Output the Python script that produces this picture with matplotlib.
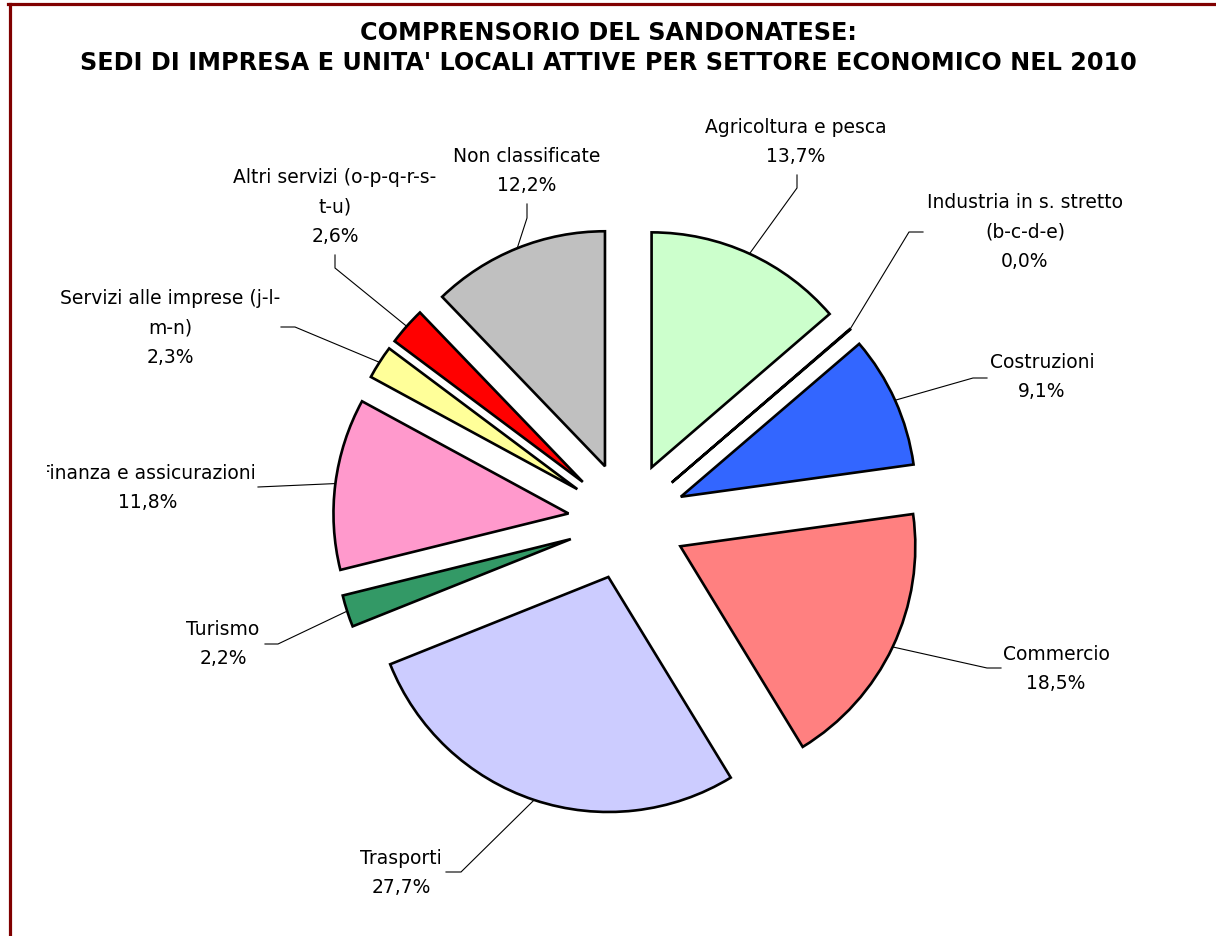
import matplotlib
matplotlib.use("Agg")
import matplotlib.pyplot as plt
import numpy as np
from matplotlib.transforms import Bbox, TransformedBbox

# ---------------- data ----------------
categories = [
    "Agricoltura e pesca",
    "Industria in s. stretto\n(b-c-d-e)",
    "Costruzioni",
    "Commercio",
    "Trasporti",
    "Turismo",
    "Finanza e assicurazioni",
    "Servizi alle imprese (j-l-\nm-n)",
    "Altri servizi (o-p-q-r-s-\nt-u)",
    "Non classificate",
]
values = [13.7, 0.04, 9.1, 18.5, 27.7, 2.2, 11.8, 2.3, 2.6, 12.2]
colors = ["#CCFFCC", "#FFCC99", "#3366FF", "#FF8080", "#CCCCFF",
          "#339966", "#FF99CC", "#FFFF99", "#FF0000", "#C0C0C0"]
title = ("COMPRENSORIO DEL SANDONATESE:\n"
         "SEDI DI IMPRESA E UNITA' LOCALI ATTIVE PER SETTORE ECONOMICO NEL 2010")

# ---------------- layout (pixel coords, y measured from top) ----------------
W, H = 1216, 936
CX, CY, R = 627, 521, 235
EXPLODE_PX = 59
# label block centres
label_pos = [(796, 142), (1025, 232), (1042, 377), (1056, 669), (401, 873),
             (223, 644), (148, 488), (170, 328), (335, 207), (527, 171)]
# leader elbows and ends
leader_elbow = [(797, 188), (909, 232), (973, 378), (987, 668), (461, 872),
                (278, 644), (258, 487), (295, 327), (335, 268), (527, 218)]
leader_end = [(797, 175), (923, 232), (987, 378), (1001, 668), (446, 872),
              (265, 644), (258, 487), (281, 327), (335, 255), (527, 204)]

def fy(y):
    return H - y

fig = plt.figure(figsize=(W / 100, H / 100), dpi=100)
fig.patch.set_facecolor("white")
ax = fig.add_axes([0, 0, 1, 1])

wedges, _ = ax.pie(values, colors=colors, startangle=90, counterclock=False,
                   explode=[EXPLODE_PX] * len(values), radius=R,
                   center=(CX, fy(CY)),
                   wedgeprops=dict(edgecolor="black", linewidth=1.9,
                                   joinstyle="miter"))
ax.set_xlim(0, W)
ax.set_ylim(0, H)
ax.set_aspect("equal")
ax.axis("off")

clip_left = TransformedBbox(Bbox.from_extents(47, 0, W, H), ax.transData)

for i, w in enumerate(wedges):
    th = np.deg2rad((w.theta1 + w.theta2) / 2)
    cx, cy = w.center
    ex, ey = cx + w.r * np.cos(th), cy + w.r * np.sin(th)
    bx, by = leader_elbow[i]
    tx, ty = leader_end[i]
    ax.plot([ex, bx, tx], [ey, fy(by), fy(ty)], color="black", lw=0.8,
            solid_joinstyle="miter")
    pct = f"{values[i]:.1f}".replace(".", ",") + "%"
    lx, ly = label_pos[i]
    t = ax.text(lx, fy(ly), categories[i] + "\n" + pct, ha="center",
                va="center", fontsize=13.5, family="DejaVu Sans",
                linespacing=1.72, color="black")
    t.set_clip_box(clip_left)
    t.set_clip_on(True)

fig.text(0.5, 1 - 48 / H, title, ha="center", va="center", fontsize=17.2,
         fontweight="bold", family="DejaVu Sans", linespacing=1.35)

# frame (top and left, dark red)
fig.add_artist(plt.Line2D([8 / W, 1], [1 - 4 / H, 1 - 4 / H],
                          transform=fig.transFigure, color="#800000", lw=2.3))
fig.add_artist(plt.Line2D([9.5 / W, 9.5 / W], [0, 1 - 4 / H],
                          transform=fig.transFigure, color="#800000", lw=2.3))

fig.savefig("out.png", dpi=100, facecolor="white")
